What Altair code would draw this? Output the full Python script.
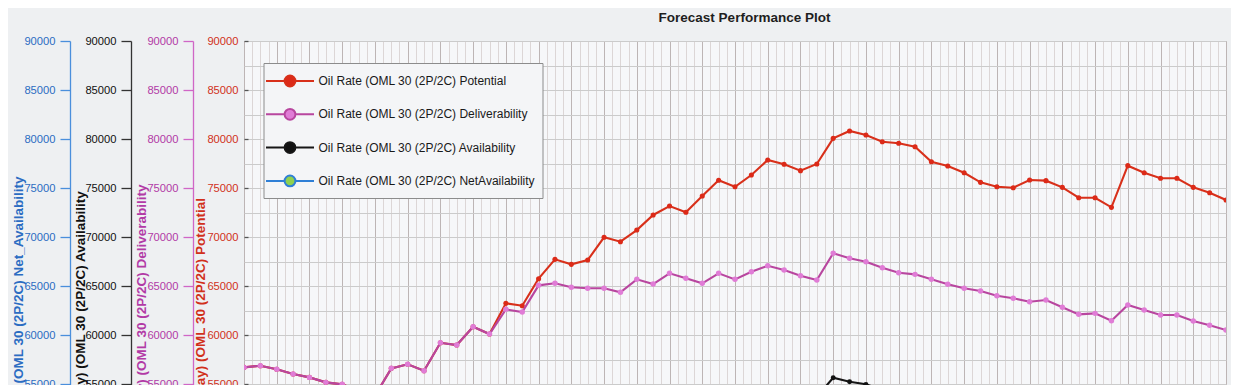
import altair as alt
import pandas as pd

# ---------------- data ----------------
months = list(range(61))

chart_title = "Forecast Performance Plot"

series_names = [
    "Oil Rate (OML 30 (2P/2C) Potential",
    "Oil Rate (OML 30 (2P/2C) Deliverability",
    "Oil Rate (OML 30 (2P/2C) Availability",
    "Oil Rate (OML 30 (2P/2C) NetAvailability",
]
axis_titles = [
    "Oil Rate (STB/Day) (OML 30 (2P/2C) Potential",
    "Oil Rate (STB/Day) (OML 30 (2P/2C) Deliverability",
    "Oil Rate (STB/Day) (OML 30 (2P/2C) Availability",
    "Oil Rate (STB/Day) (OML 30 (2P/2C) Net_Availability",
]

potential = [56700, 56870, 56500, 56020, 55680, 55170, 54970, 54300, 53800, 56600,
             57010, 56360, 59210, 58980, 60850, 60100, 63240, 62990, 65750, 67720,
             67210, 67650, 69970, 69520, 70710, 72250, 73160, 72520, 74180, 75790,
             75130, 76330, 77860, 77420, 76770, 77450, 80070, 80820, 80410, 79720,
             79560, 79210, 77680, 77250, 76560, 75580, 75130, 75030, 75820, 75750,
             75070, 74010, 74010, 73030, 77280, 76560, 75990, 75990, 75070, 74520, 73780]

deliverability = [56700, 56870, 56500, 56020, 55680, 55170, 54970, 54300, 53800, 56600,
                  57010, 56360, 59210, 58980, 60850, 60100, 62620, 62350, 65070, 65280,
                  64870, 64770, 64770, 64360, 65680, 65200, 66300, 65790, 65280, 66300,
                  65680, 66460, 67070, 66630, 66050, 65610, 68340, 67830, 67480, 66870,
                  66360, 66190, 65690, 65170, 64770, 64490, 64010, 63750, 63400, 63570,
                  62830, 62110, 62210, 61460, 63060, 62550, 62040, 62040, 61430, 60990, 60510]

# only the part that is visible above the bottom edge of the picture is known
availability = [None] * 35 + [53700, 55640, 55240, 54970, 54400] + [None] * 21
net_availability = [None] * 61

y_tick_values = [55000, 60000, 65000, 70000, 75000, 80000, 85000, 90000]
y_grid_values = [55000, 57500, 60000, 62500, 65000, 67500, 70000, 72500,
                 75000, 77500, 80000, 82500, 85000, 87500, 90000]
x_minor_grid = [i / 2 for i in range(121)]
x_major_grid = [i * 2 for i in range(31)]

# ---------------- styles ----------------
line_colors = ["#d8301a", "#b8469f", "#161616", "#2f7fd6"]
marker_colors = ["#dc2a18", "#e07cd6", "#111111", "#8fd14f"]
marker_sizes = [26, 30, 24, 24]
label_colors = ["#d1301b", "#b23aa6", "#111111", "#2b6cc2"]
domain_colors = ["#555555", "#d066c6", "#333333", "#4a8fdc"]
axis_offsets = [-4, 51, 113, 174]
tick_sizes = [4, 10, 10, 10]
label_pads = [6, 5, 5, 5]
title_xs = [-48, -52, -51, -52]

SANS = "Liberation Sans, Arial, sans-serif"
PLOT_W, PLOT_H = 982, 345

frames = []
for name, vals in zip(series_names, [potential, deliverability, availability, net_availability]):
    frames.append(pd.DataFrame({"month": months, "value": vals, "series": name}))
long_df = pd.concat(frames, ignore_index=True)

stroke_scale = alt.Scale(domain=series_names, range=line_colors)
fill_scale = alt.Scale(domain=series_names, range=marker_colors)

# legend glyph: a line with a dot in the middle (dot drawn with Bezier curves)
SYMBOL = ("M-2.4,0H-0.54M0.54,0H2.4"
          "M0.54,0C0.54,0.298,0.298,0.54,0,0.54C-0.298,0.54,-0.54,0.298,-0.54,0"
          "C-0.54,-0.298,-0.298,-0.54,0,-0.54C0.298,-0.54,0.54,-0.298,0.54,0Z")
legend_def = alt.Legend(
    orient="none", legendX=19.5, legendY=22, title=None,
    symbolType=SYMBOL, symbolSize=400, symbolStrokeWidth=2, symbolOffset=8.5,
    labelOffset=17.5, labelFont=SANS, labelFontSize=12, labelColor="#1a1a1a",
    labelLimit=400, rowPadding=12.3, padding=7,
    fillColor="#f4f5f7", strokeColor="#8c8c8c",
)

# the top x axis only draws the minor grid and carries the chart heading
minor_x_axis = alt.Axis(orient="top", values=x_minor_grid, grid=True, gridColor="#dcd6d6",
                        gridWidth=1, labels=False, ticks=False, domain=False,
                        title=chart_title, titleFont=SANS, titleFontSize=13.5,
                        titleFontWeight="bold", titleColor="#1e1e1e", titleAngle=0,
                        titleAlign="center", titleBaseline="alphabetic",
                        titleX=PLOT_W / 2 + 9, titleY=-20)
major_x_axis = alt.Axis(orient="bottom", values=x_major_grid, grid=True, gridColor="#bdb5b5",
                        gridWidth=1, labels=False, ticks=False, domain=False, title=None)
grid_y_axis = alt.Axis(orient="left", values=y_grid_values, grid=True, gridColor="#cbcbcb",
                       gridWidth=1, labels=False, ticks=False, domain=False, title=None)


def y_axis(k):
    return alt.Axis(
        orient="left", offset=axis_offsets[k], values=y_tick_values, format="d", grid=False,
        domain=(k != 0), domainColor=domain_colors[k], domainWidth=1.3,
        ticks=True, tickColor=domain_colors[k], tickSize=tick_sizes[k], tickWidth=1.3,
        labelColor=label_colors[k], labelFont=SANS, labelFontSize=11.2,
        labelPadding=label_pads[k],
        title=axis_titles[k], titleColor=label_colors[k], titleFont=SANS,
        titleFontSize=13.5, titleFontWeight="bold", titleAngle=270,
        titleX=title_xs[k], titleY=300, titleAlign="center", titleBaseline="middle",
        titleLimit=800,
    )


def y_scale():
    return alt.Scale(domain=[54800, 90000], nice=False, zero=False)


def x_scale():
    return alt.Scale(domain=[0, 60], nice=False, zero=False)


units = []
for k in range(4):
    src = long_df[long_df["series"] == series_names[k]]
    grid = k == 0
    line = alt.Chart(src).mark_line(strokeWidth=2.1, clip=True).encode(
        x=alt.X("month:Q", scale=x_scale(), axis=minor_x_axis if grid else None),
        y=alt.Y("value:Q", scale=y_scale(), axis=y_axis(k)),
        stroke=alt.Stroke("series:N", scale=stroke_scale, legend=legend_def),
    )
    pts = alt.Chart(src).mark_point(filled=True, size=marker_sizes[k], opacity=1,
                                    clip=True).encode(
        x=alt.X("month:Q", scale=x_scale(), axis=major_x_axis if grid else None),
        y=alt.Y("value:Q", scale=y_scale(), axis=grid_y_axis if grid else None),
        fill=alt.Fill("series:N", scale=fill_scale, legend=legend_def),
    )
    units += [line, pts]

chart = (
    alt.layer(*units)
    .resolve_scale(y="independent")
    .resolve_axis(x="independent", y="independent")
    .properties(
        width=PLOT_W, height=PLOT_H,
        background="#eef0f2",
        padding={"left": 236, "top": 33, "right": 5, "bottom": 0},
        autosize=alt.AutoSizeParams(type="none"),
    )
    .configure_view(fill="#f6f7f9", stroke="#7a7a7a", strokeWidth=1)
)

chart.save("out.html", embed_options={"renderer": "svg", "actions": False})
